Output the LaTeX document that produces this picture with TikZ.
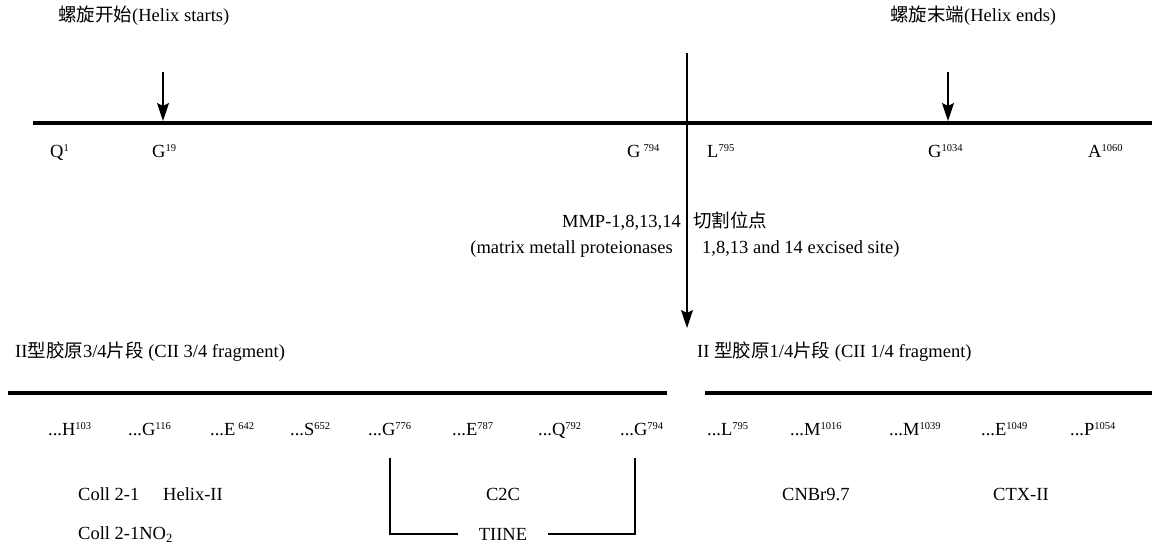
\documentclass[tikz,border=0pt]{standalone}
\usepackage{fontspec}
\setmainfont{Liberation Serif}
\newfontfamily\cjk{Noto Sans CJK SC}
\usetikzlibrary{arrows.meta}
\newcommand\sups[1]{\raisebox{6pt}{\fontsize{10.5}{10.5}\selectfont#1}}
\newcommand\subs[1]{\raisebox{-3pt}{\fontsize{12.5}{12.5}\selectfont#1}}
\begin{document}
\begin{tikzpicture}[x=1pt,y=-1pt,
  lbl/.style={inner sep=0pt, anchor=base west, font=\fontsize{18.5}{21}\selectfont},
  lblr/.style={lbl, anchor=base east},
  chain/.style={line width=4.5pt},
  pointer/.style={line width=1.7pt, -{Stealth[length=18pt,width=12pt,inset=3pt]}},
  bracket/.style={line width=1.5pt}]
\useasboundingbox (0,0) rectangle (1156,545);

% headings
\node[lbl] (hs) at (58,22) {{\cjk 螺旋开始}(Helix starts)};
\node[lbl] (he) at (890,22) {{\cjk 螺旋末端}(Helix ends)};

% top chain
\coordinate (t0) at (33,123);
\coordinate (t1) at (1152,123);
\draw[chain] (t0) -- (t1);

% helix arrows
\coordinate (a19) at (163,72);
\coordinate (b19) at (163,121);
\draw[pointer] (a19) -- (b19);
\coordinate (a1034) at (948,72);
\coordinate (b1034) at (948,121);
\draw[pointer] (a1034) -- (b1034);

% cleavage arrow
\coordinate (c0) at (687,53);
\coordinate (c1) at (687,328);
\draw[pointer] (c0) -- (c1);

% top residues
\node[lbl] (q1) at (50,158) {Q\sups{1}};
\node[lbl] (g19) at (152,158) {G\sups{19}};
\node[lbl] (g794t) at (627,158) {G\,\sups{794}};
\node[lbl] (l795t) at (707,158) {L\sups{795}};
\node[lbl] (g1034) at (928,158) {G\sups{1034}};
\node[lbl] (a1060) at (1088,158) {A\sups{1060}};

% MMP labels
\node[lblr] (mmp) at (681,228) {MMP-1,8,13,14};
\node[lbl] (cut) at (693,228) {\cjk 切割位点};
\node[lblr] (mat) at (673,254) {(matrix metall proteionases};
\node[lbl] (exc) at (702,254) {1,8,13 and 14 excised site)};

% fragment labels
\node[lbl] (f34) at (15,357) {II{\cjk 型胶原}3/4{\cjk 片段} (CII 3/4 fragment)};
\node[lbl] (f14) at (697,357) {II {\cjk 型胶原}1/4{\cjk 片段} (CII 1/4 fragment)};

% fragment chains
\coordinate (l0) at (8,393);
\coordinate (l1) at (667,393);
\draw[chain] (l0) -- (l1);
\coordinate (r0) at (705,393);
\coordinate (r1) at (1152,393);
\draw[chain] (r0) -- (r1);

% lower residues
\node[lbl] (h103) at (48,435) {...H\sups{103}};
\node[lbl] (g116) at (128,435) {...G\sups{116}};
\node[lbl] (e642) at (210,435) {...E\,\sups{642}};
\node[lbl] (s652) at (290,435) {...S\sups{652}};
\node[lbl] (g776) at (368,435) {...G\sups{776}};
\node[lbl] (e787) at (452,435) {...E\sups{787}};
\node[lbl] (q792) at (538,435) {...Q\sups{792}};
\node[lbl] (g794) at (620,435) {...G\sups{794}};
\node[lbl] (l795) at (707,435) {...L\sups{795}};
\node[lbl] (m1016) at (790,435) {...M\sups{1016}};
\node[lbl] (m1039) at (889,435) {...M\sups{1039}};
\node[lbl] (e1049) at (981,435) {...E\sups{1049}};
\node[lbl] (p1054) at (1070,435) {...P\sups{1054}};

% markers
\node[lbl] (coll) at (78,500) {Coll 2-1};
\node[lbl] (helix) at (163,500) {Helix-II};
\node[lbl] (collno) at (78,539) {Coll 2-1NO\subs{2}};
\node[lbl] (cnbr) at (782,500) {CNBr9.7};
\node[lbl] (ctx) at (993,500) {CTX-II};
\node[lbl, anchor=center] (c2c) at (503,494) {C2C};
\node[lbl, anchor=center, inner xsep=21pt] (tiine) at (503,534) {TIINE};

% bracket
\coordinate (bL) at (390,458);
\coordinate (bR) at (635,458);
\draw[bracket] (bL) |- (tiine.west);
\draw[bracket] (bR) |- (tiine.east);
\end{tikzpicture}
\end{document}
